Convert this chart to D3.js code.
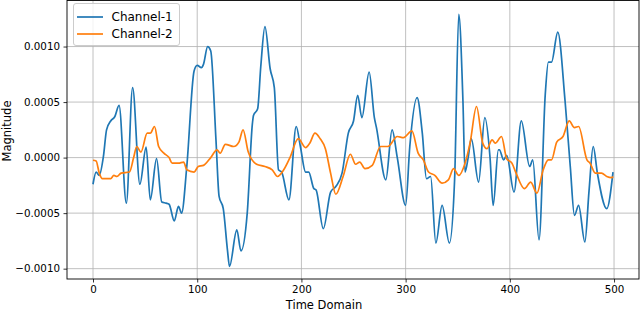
<!DOCTYPE html>
<html>
<head>
<meta charset="utf-8">
<script src="https://cdn.jsdelivr.net/npm/d3@7"></script>
<style>
body { margin: 0; background: #fff; }
text { font-family: "DejaVu Sans", sans-serif; fill: #000; }
</style>
</head>
<body>
<div id="chart"></div>
<script>
// channel 1 (blue): sample index, magnitude
const ch1X = [0,3,6,10,13,17,21,25,32,38,45,51,55,61,66,70,73,78,82,85,90,97,100,104,106,110,113,118,121,125,129,131,138,142,148,153,154,158,161,165,170,174,178,181,188,195,199,204,207,212,214,221,228,233,239,245,250,254,258,265,270,272,281,287,292,300,304,311,316,320,324,329,335,342,347,351,355,357,360,363,370,376,381,384,389,390,394,397,404,411,419,422,428,434,437,440,446,453,458,462,466,472,476,480,484,493,499]
const ch1Y = [-0.00024,-0.00013,-0.00016,0.00001,0.00025,0.00033,0.00037,0.00047,-0.00041,0.00063,-0.00024,0.000095,-0.00038,-0.00001,-0.0004,-0.00041,-0.00042,-0.00057,-0.00044,-0.0005,-0.00008,0.00078,0.00083,0.00081,0.00084,0.001,0.00096,0.00016,-0.00035,-0.00046,-0.00083,-0.00098,-0.00065,-0.00084,-0.0005,0.00031,0.00038,0.00044,0.00082,0.00118,0.0008,0.00063,-0.00011,-0.00013,-0.00038,0.00028,0.0001,-0.00013,-0.00013,-0.00028,-0.00029,-0.00064,-0.00031,-0.00026,-0.00014,0.00022,0.00033,0.00056,0.00036,0.00077,0.00036,0.00027,-0.0002,0.00025,0.0,-0.00043,0.0001,0.00054,0.00022,-0.00019,-0.00017,-0.00077,-0.00043,-0.00077,-0.0002,0.00129,0.00051,-0.00013,0.0,0.00017,-0.00022,0.00036,0.0,-0.00043,0.00007,0.00007,-0.00002,0.00002,-0.00031,0.00033,-0.00008,-0.00002,-0.00074,0.00057,0.00086,0.00086,0.00113,0.00051,-0.00008,-0.00052,-0.00043,-0.00076,-0.0003,0.0001,-0.00014,-0.00046,-0.00013]

// channel 2 (orange)
const ch2X = [0,3,6,9,17,20,23,27,35,39,42,46,52,55,59,63,68,73,76,82,87,90,97,101,106,113,119,122,127,135,140,144,149,157,165,172,177,183,189,197,204,208,213,218,223,228,233,240,247,252,256,261,268,276,283,292,298,306,312,317,322,328,335,341,346,351,357,362,368,374,378,383,386,392,397,402,406,414,420,426,432,437,440,445,451,457,462,466,474,477,482,488,493,498,499]
const ch2Y = [-0.000024,-0.00003,-0.00014,-0.00019,-0.00019,-0.00016,-0.00017,-0.00014,-0.00013,0.0,0.0001,0.00005,0.00022,0.00022,0.00028,0.0001,0.00004,0.0,-0.00005,-0.00005,-0.00004,-0.00011,-0.00013,-0.00008,-0.00007,0.0,0.00007,0.00004,0.00012,0.0001,0.00014,0.00025,0.00005,-0.00006,-0.00008,-0.00011,-0.00017,-0.00011,0.0,0.00017,0.00009,0.00013,0.00022,0.00017,0.00008,-0.00014,-0.00033,-0.00017,0.00003,-0.00006,-0.00004,-0.0001,-0.00007,0.0001,0.0001,0.00019,0.00018,0.00024,0.00004,-0.00002,-0.00013,-0.00016,-0.00023,-0.0002,-0.0001,-0.00016,-0.00005,0.00014,0.00046,0.00013,0.00008,0.00016,0.00013,0.00019,-0.00001,-0.00005,-0.00014,-0.00028,-0.00022,-0.00032,-0.00011,-0.00002,-0.00002,0.00014,0.00019,0.00033,0.00027,0.00028,-0.00002,-0.00005,-0.00014,-0.00014,-0.00017,-0.00018,-0.00017]

const seriesNames = ["Channel-1", "Channel-2"]
const seriesColors = ["#1f77b4", "#ff7f0e"]
const xTicks = [0, 100, 200, 300, 400, 500]
const yTicks = [-0.001, -0.0005, 0, 0.0005, 0.001]

const width = 640
const height = 311
const margin = {top: 1, right: 1, bottom: 32, left: 67}

const svg = d3.select("#chart").append("svg")
    .attr("width", width)
    .attr("height", height)

const x = d3.scaleLinear()
    .domain([-24.95, 523.95])
    .range([margin.left, width - margin.right])
const y = d3.scaleLinear()
    .domain([-0.001093, 0.00141])
    .range([height - margin.bottom, margin.top])

// grid
svg.append("g")
    .selectAll("line")
    .data(xTicks)
    .enter()
    .append("line")
    .attr("x1", d => x(d)).attr("x2", d => x(d))
    .attr("y1", margin.top).attr("y2", height - margin.bottom)
    .attr("stroke", "#b0b0b0").attr("stroke-width", 0.8)
svg.append("g")
    .selectAll("line")
    .data(yTicks)
    .enter()
    .append("line")
    .attr("y1", d => y(d)).attr("y2", d => y(d))
    .attr("x1", margin.left).attr("x2", width - margin.right)
    .attr("stroke", "#b0b0b0").attr("stroke-width", 0.8)

// axes
const fmt = d => d3.format(".4f")(d).replace("-", "\u2212")
const xAxis = svg.append("g")
    .attr("transform", "translate(0," + (height - margin.bottom) + ")")
    .call(d3.axisBottom(x).tickValues(xTicks).tickSize(3.5).tickPadding(3.5))
const yAxis = svg.append("g")
    .attr("transform", "translate(" + margin.left + ",0)")
    .call(d3.axisLeft(y).tickValues(yTicks).tickFormat(fmt).tickSize(3.5).tickPadding(3.5))
;[xAxis, yAxis].forEach(a => {
    a.select(".domain").remove()
    a.selectAll("text").attr("font-size", "10.3px").attr("font-family", "DejaVu Sans")
    a.selectAll("line").attr("stroke", "#000").attr("stroke-width", 0.8)
})

// lines
const line = d3.line()
    .x(d => x(d[0]))
    .y(d => y(d[1]))
    .curve(d3.curveMonotoneX)
const series = [
    d3.zip(ch1X, ch1Y),
    d3.zip(ch2X, ch2Y)
]
svg.append("g")
    .selectAll("path")
    .data(series)
    .enter()
    .append("path")
    .attr("d", line)
    .attr("fill", "none")
    .attr("stroke", (d, i) => seriesColors[i])
    .attr("stroke-width", 1.7)
    .attr("stroke-linejoin", "round")

// frame
svg.append("rect")
    .attr("x", margin.left)
    .attr("y", margin.top - 0.5)
    .attr("width", width - margin.left - margin.right)
    .attr("height", height - margin.bottom - margin.top + 0.5)
    .attr("fill", "none")
    .attr("stroke", "#000")
    .attr("stroke-width", 0.9)

// axis titles
svg.append("text")
    .attr("x", 324)
    .attr("y", 309)
    .attr("text-anchor", "middle")
    .attr("font-size", "11.5px")
    .text("Time Domain")
svg.append("text")
    .attr("transform", "translate(10.5,131) rotate(-90)")
    .attr("text-anchor", "middle")
    .attr("font-size", "11.5px")
    .text("Magnitude")

// legend
const legend = svg.append("g")
legend.append("rect")
    .attr("x", 73.5).attr("y", 3.5)
    .attr("width", 106).attr("height", 42)
    .attr("rx", 2.5)
    .attr("fill", "#fff").attr("fill-opacity", 0.8)
    .attr("stroke", "#ccc")
seriesNames.forEach((name, i) => {
    const ly = 17 + i * 17
    legend.append("line")
        .attr("x1", 77).attr("x2", 103)
        .attr("y1", ly).attr("y2", ly)
        .attr("stroke", seriesColors[i])
        .attr("stroke-width", 1.7)
    legend.append("text")
        .attr("x", 111.5)
        .attr("y", ly + 4.3)
        .attr("font-size", "12px")
        .text(name)
})
</script>
</body>
</html>
